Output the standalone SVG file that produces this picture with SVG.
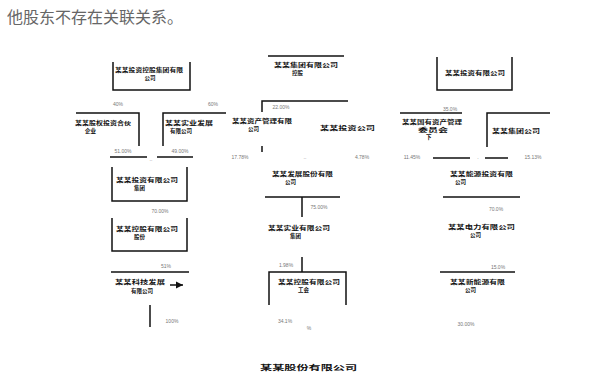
<svg xmlns="http://www.w3.org/2000/svg" width="615" height="386" viewBox="0 0 615 386">
<style>
.t{font-family:"Noto Sans CJK SC","Noto Sans",sans-serif;font-size:5.5px;fill:#111;font-weight:bold}
.p{font-family:"Liberation Sans","Noto Sans",sans-serif;font-size:5px;fill:#777}
.h{font-family:"Noto Sans CJK SC","Noto Sans",sans-serif;font-size:16px;fill:#666}
.c{fill:none;stroke:#111;stroke-width:1.5}
.m{text-anchor:middle}
</style>
<defs><marker id="ar" markerWidth="6" markerHeight="6" refX="5" refY="3" orient="auto"><path d="M0,0.5 L5,3 L0,5.5 Z" fill="#111"/></marker></defs>
<rect width="615" height="386" fill="#fff"/>
<text class="h" x="7" y="23">他股东不存在关联关系。</text>
<g id="connectors">
<path class="c" d="M113,62 V90 H190 V62"/>
<path class="c" d="M76,113 H139 V146"/>
<path class="c" d="M163,146 V113 H226"/>
<path class="c" d="M110,157 H147 M157,157 H193"/>
<path class="c" d="M112,167 V201 H187 V167"/>
<path class="c" d="M112,218 V251 H187 V218"/>
<path class="c" d="M111,272 H189"/>
<path class="c" d="M170,285 H183" marker-end="url(#ar)"/>
<path class="c" d="M150,305 V327"/>
<path class="c" d="M268,56 H344"/>
<path class="c" d="M262,112 V101 H348"/>
<path class="c" d="M262,146 V152"/>
<path class="c" d="M265,197 H340 M302,197 V217"/>
<path class="c" d="M302,257 V272"/>
<path class="c" d="M269,305 V272 H346 V305"/>
<path class="c" d="M437,57 V90 H512 V57"/>
<path class="c" d="M400,113 H462"/>
<path class="c" d="M487,147 V113 H550"/>
<path class="c" d="M433,158 H470 M485,158 H508"/>
<path class="c" d="M443,197 H520"/>
<path class="c" d="M440,272 H515"/>
</g>
<g id="labels">
<text class="p m" x="118" y="106">40%</text>
<text class="p m" x="213" y="106">60%</text>
<text class="p m" x="123" y="153">51.00%</text>
<text class="p m" x="180" y="153">49.00%</text>
<text class="p m" x="151" y="161">..</text>
<text class="p m" x="160" y="213">70.00%</text>
<text class="p m" x="166" y="268">51%</text>
<text class="p m" x="172" y="323">100%</text>
<text class="p m" x="281" y="109">22.00%</text>
<text class="p m" x="240" y="159">17.78%</text>
<text class="p m" x="305" y="159">..</text>
<text class="p m" x="362" y="159">4.78%</text>
<text class="p m" x="319" y="209">75.00%</text>
<text class="p m" x="286" y="267">1.98%</text>
<text class="p m" x="285" y="323">34.1%</text>
<text class="p m" x="309" y="330">%</text>
<text class="p m" x="450" y="111">35.0%</text>
<text class="p m" x="412" y="159">11.45%</text>
<text class="p m" x="478" y="159">.</text>
<text class="p m" x="533" y="159">15.13%</text>
<text class="p m" x="496" y="211">70.0%</text>
<text class="p m" x="498" y="269">15.0%</text>
<text class="p m" x="466" y="326">30.00%</text>
</g>
<g id="n1"><text class="t" x="115" y="72" textLength="68" lengthAdjust="spacingAndGlyphs">某某投资控股集团有限</text><text class="t m" x="150" y="79.5">公司</text></g>
<g id="n2"><text class="t" x="75" y="125" textLength="56" lengthAdjust="spacingAndGlyphs">某某股权投资合伙</text><text class="t" x="85" y="132.5">企业</text></g>
<g id="n3"><text class="t" x="165" y="125" textLength="48" lengthAdjust="spacingAndGlyphs">某某实业发展</text><text class="t" x="170" y="132.5">有限公司</text></g>
<g id="n4"><text class="t" x="116" y="182" textLength="62" lengthAdjust="spacingAndGlyphs">某某投资有限公司</text><text class="t" x="134" y="189.5">集团</text></g>
<g id="n5"><text class="t" x="116" y="231" textLength="62" lengthAdjust="spacingAndGlyphs">某某控股有限公司</text><text class="t" x="134" y="238.5">股份</text></g>
<g id="n6"><text class="t" x="115" y="284" textLength="50" lengthAdjust="spacingAndGlyphs">某某科技发展</text><text class="t" x="131" y="293">有限公司</text></g>
<g id="n7"><text class="t" x="274" y="67" textLength="64" lengthAdjust="spacingAndGlyphs">某某集团有限公司</text><text class="t" x="292" y="74.5">控股</text></g>
<g id="n8"><text class="t" x="232" y="123" textLength="60" lengthAdjust="spacingAndGlyphs">某某资产管理有限</text><text class="t" x="248" y="130.5">公司</text></g>
<g id="n9"><text class="t" x="320" y="130" textLength="55" lengthAdjust="spacingAndGlyphs">某某投资公司</text></g>
<g id="n10"><text class="t" x="272" y="176" textLength="61" lengthAdjust="spacingAndGlyphs">某某发展股份有限</text><text class="t" x="285" y="183.5">公司</text></g>
<g id="n11"><text class="t" x="268" y="230" textLength="62" lengthAdjust="spacingAndGlyphs">某某实业有限公司</text><text class="t" x="290" y="237.5">集团</text></g>
<g id="n12"><text class="t" x="278" y="284" textLength="62" lengthAdjust="spacingAndGlyphs">某某控股有限公司</text><text class="t" x="298" y="292">工会</text></g>
<g id="n13"><text class="t" x="260" y="370" style="font-size:6.5px" textLength="97" lengthAdjust="spacingAndGlyphs">某某股份有限公司</text></g>
<g id="n14"><text class="t" x="445" y="75" textLength="60" lengthAdjust="spacingAndGlyphs">某某投资有限公司</text></g>
<g id="n15"><text class="t" x="402" y="124" textLength="60" lengthAdjust="spacingAndGlyphs">某某国有资产管理</text><text class="t" x="418" y="131.5" textLength="30" lengthAdjust="spacingAndGlyphs">委员会</text><text class="t" x="426" y="139">下</text></g>
<g id="n16"><text class="t" x="492" y="133" textLength="48" lengthAdjust="spacingAndGlyphs">某某集团公司</text></g>
<g id="n17"><text class="t" x="450" y="176" textLength="63" lengthAdjust="spacingAndGlyphs">某某能源投资有限</text><text class="t" x="455" y="183.5">公司</text></g>
<g id="n18"><text class="t" x="448" y="229" textLength="67" lengthAdjust="spacingAndGlyphs">某某电力有限公司</text><text class="t" x="470" y="236.5">公司</text></g>
<g id="n19"><text class="t" x="450" y="284" textLength="55" lengthAdjust="spacingAndGlyphs">某某新能源有限</text><text class="t" x="465" y="292">公司</text></g>
</svg>
